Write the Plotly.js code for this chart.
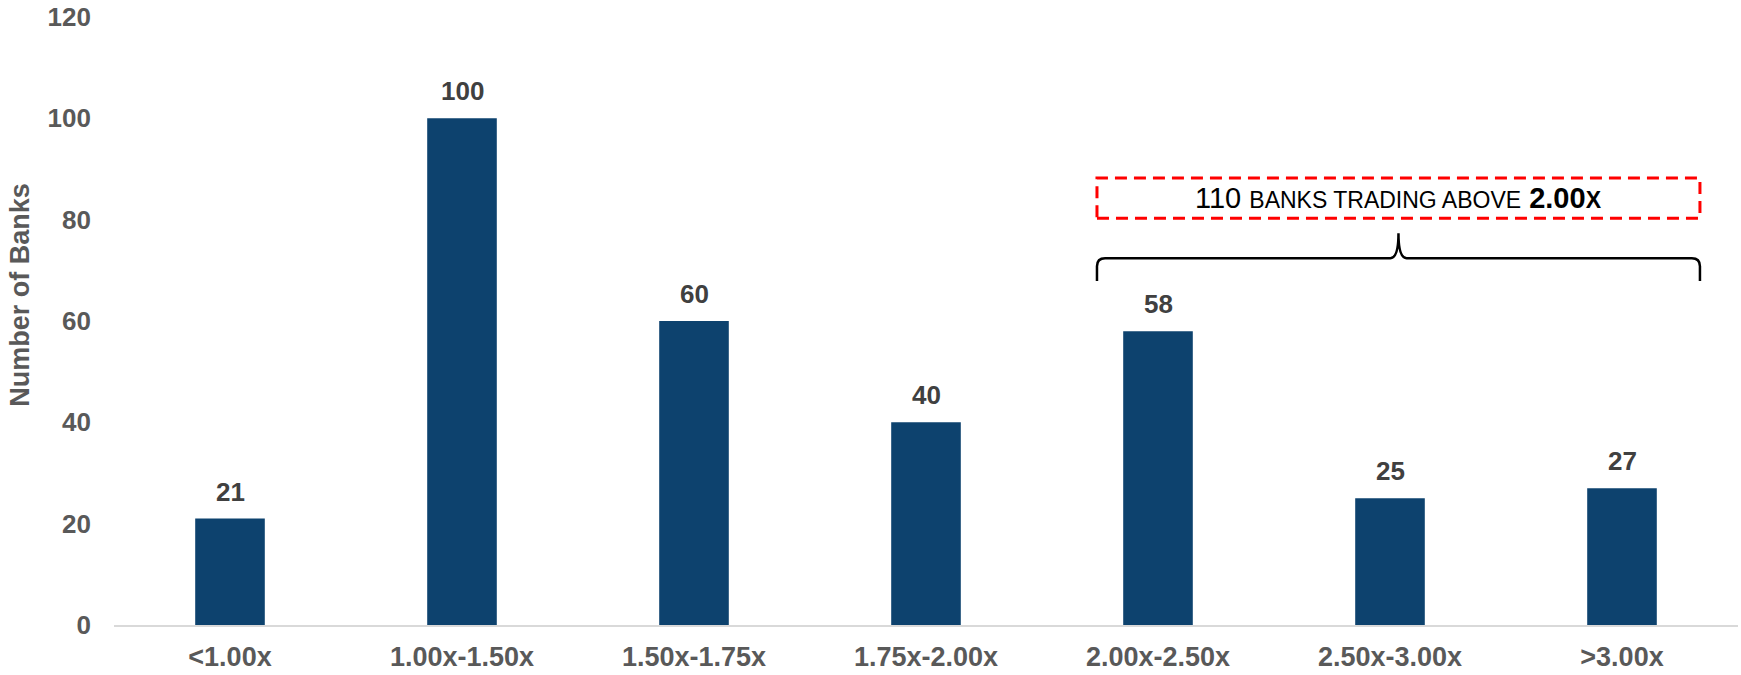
<!DOCTYPE html>
<html>
<head>
<meta charset="utf-8">
<script src="https://cdn.plot.ly/plotly-3.0.1.min.js"></script>
<style>
  html, body { margin: 0; padding: 0; background: #ffffff; }
  #chart { width: 1741px; height: 675px; }
</style>
</head>
<body>
<div id="chart"></div>
<script>
// Price-to-tangible-book buckets and how many banks fall in each
const categories = ['<1.00x', '1.00x-1.50x', '1.50x-1.75x', '1.75x-2.00x', '2.00x-2.50x', '2.50x-3.00x', '>3.00x'];
const bankCounts = [21, 100, 60, 40, 58, 25, 27];
const yTicks = [0, 20, 40, 60, 80, 100, 120];
const yTitle = 'Number of Banks';
const calloutText = '110 <span style="font-size:23px">BANKS TRADING ABOVE</span> <b>2.00<span style="font-size:23px">X</span></b>';

const FONT = 'Arial, "Liberation Sans", sans-serif';
const BAR_COLOR = '#0D426E';
const AXIS_TEXT = '#595959';
const idx = categories.map((_, i) => i);

const trace = {
  type: 'bar',
  x: idx,
  y: bankCounts,
  marker: { color: BAR_COLOR, line: { width: 0 } },
  hoverinfo: 'skip'
};

// value labels above each bar
const valueLabels = bankCounts.map((v, i) => ({
  x: i, y: v, xref: 'x', yref: 'y',
  text: '<b>' + v + '</b>',
  showarrow: false,
  yanchor: 'bottom',
  yshift: 10,
  font: { family: FONT, size: 26, color: '#404040' }
}));

// bracket spanning the top three buckets
const bx0 = 3.737, bx1 = 6.336, bxm = (bx0 + bx1) / 2;
const yEnd = 67.9, yBar = 72.4, yTip = 77.3;
const rx = 0.035, ry = 1.6;
const bracePath =
  `M ${bx0},${yEnd} L ${bx0},${yBar - ry} Q ${bx0},${yBar} ${bx0 + rx},${yBar} ` +
  `L ${bxm - rx},${yBar} Q ${bxm},${yBar} ${bxm},${yTip} ` +
  `Q ${bxm},${yBar} ${bxm + rx},${yBar} L ${bx1 - rx},${yBar} ` +
  `Q ${bx1},${yBar} ${bx1},${yBar - ry} L ${bx1},${yEnd}`;

const layout = {
  width: 1741,
  height: 675,
  margin: { l: 114, r: 3, t: 17, b: 50 },
  paper_bgcolor: '#ffffff',
  plot_bgcolor: '#ffffff',
  showlegend: false,
  bargap: 0.7,
  font: { family: FONT },
  xaxis: {
    type: 'linear',
    range: [-0.5, 6.5],
    tickvals: idx,
    ticktext: categories,
    showgrid: false,
    zeroline: false,
    showline: true,
    linecolor: '#d9d9d9',
    linewidth: 2,
    ticks: '',
    ticklabelstandoff: 7,
    tickfont: { family: FONT, size: 27, color: AXIS_TEXT, weight: 'bold' },
    fixedrange: true
  },
  yaxis: {
    range: [0, 120],
    tickvals: yTicks,
    showgrid: false,
    zeroline: false,
    showline: false,
    ticks: '',
    ticklabelstandoff: 22,
    tickfont: { family: FONT, size: 26, color: AXIS_TEXT, weight: 'bold' },
    fixedrange: true
  },
  shapes: [
    {
      type: 'rect', xref: 'x', yref: 'y',
      x0: bx0, x1: bx1, y0: 80.3, y1: 88.2,
      line: { color: '#FF0000', width: 3, dash: '12px,7px' },
      fillcolor: 'rgba(0,0,0,0)'
    },
    {
      type: 'path', xref: 'x', yref: 'y',
      path: bracePath,
      line: { color: '#000000', width: 2.5 },
      fillcolor: 'rgba(0,0,0,0)'
    }
  ],
  annotations: valueLabels.concat([
    {
      x: bxm, y: 84.2, xref: 'x', yref: 'y',
      text: calloutText,
      showarrow: false,
      xanchor: 'center', yanchor: 'middle',
      font: { family: FONT, size: 29, color: '#000000' }
    },
    {
      x: -0.0579, y: 0.543, xref: 'paper', yref: 'paper',
      text: '<b>' + yTitle + '</b>',
      textangle: -90,
      showarrow: false,
      xanchor: 'center', yanchor: 'middle',
      font: { family: FONT, size: 27, color: AXIS_TEXT }
    }
  ])
};

Plotly.newPlot('chart', [trace], layout, { displayModeBar: false, staticPlot: true });
</script>
</body>
</html>
